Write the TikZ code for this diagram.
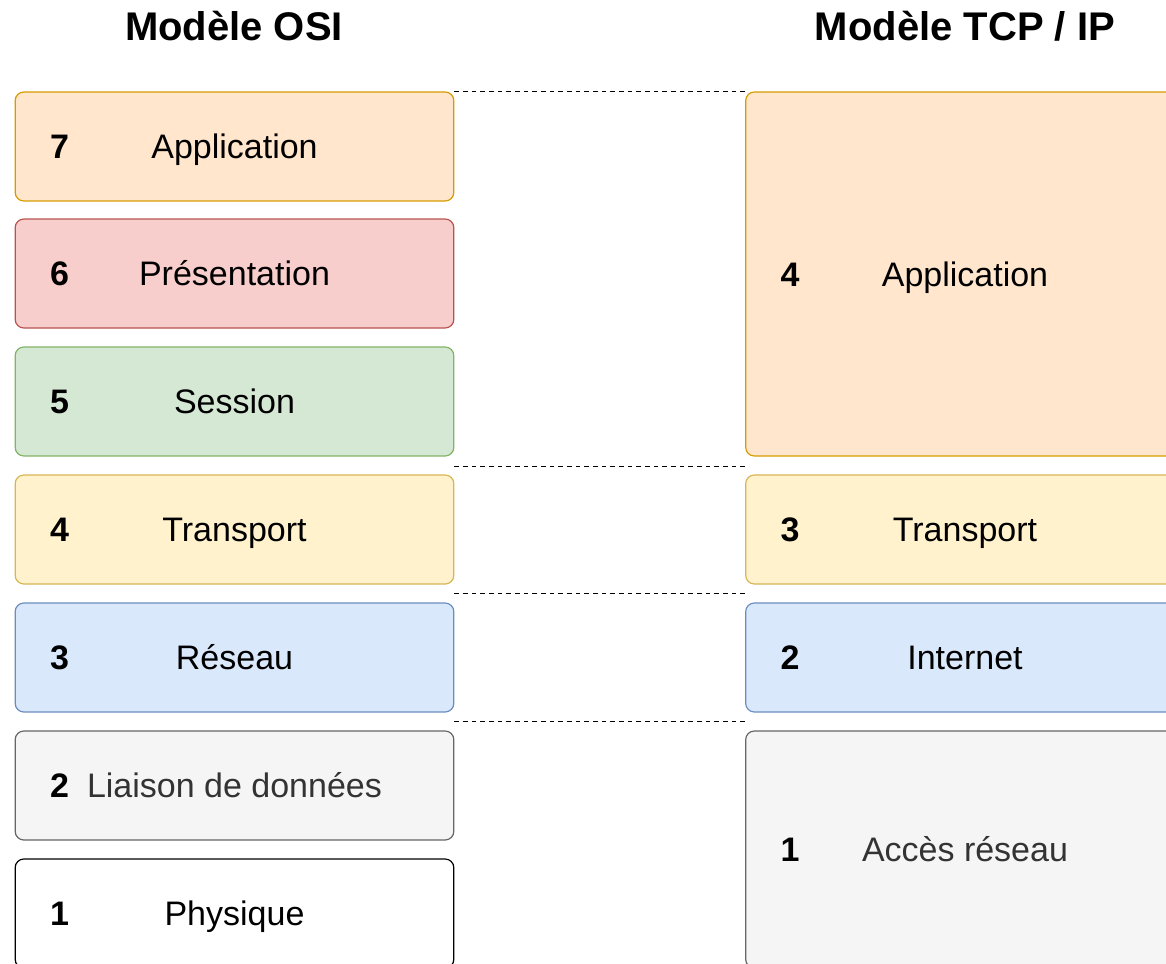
\documentclass[tikz,border=0pt]{standalone}
\usepackage{fontspec}
\setmainfont{Liberation Sans}
\usetikzlibrary{positioning}

\definecolor{orangeF}{HTML}{FFE6CC}\definecolor{orangeD}{HTML}{D79B00}
\definecolor{redF}{HTML}{F8CECC}\definecolor{redD}{HTML}{B85450}
\definecolor{greenF}{HTML}{D5E8D4}\definecolor{greenD}{HTML}{82B366}
\definecolor{yellowF}{HTML}{FFF2CC}\definecolor{yellowD}{HTML}{D6B656}
\definecolor{blueF}{HTML}{DAE8FC}\definecolor{blueD}{HTML}{6C8EBF}
\definecolor{grayF}{HTML}{F5F5F5}\definecolor{grayD}{HTML}{666666}
\definecolor{grayT}{HTML}{333333}

\begin{document}
\begin{tikzpicture}[x=0.75pt, y=-0.75pt,
            layer/.style = {draw, rounded corners=6.5pt, line width=0.9pt,
                            minimum width=329pt, inner sep=0pt,
                            text height=24.2pt, text depth=5.6pt,
                            font=\fontsize{25.5}{30}\selectfont},
            osi/.style = {layer, minimum height=81.75pt},
            num/.style = {font=\fontsize{25.5}{30}\selectfont\bfseries, anchor=base},
            title/.style = {font=\fontsize{30}{36}\selectfont\bfseries, anchor=base},
            sep/.style = {dashed, line width=0.8pt, dash pattern=on 3.5pt off 3pt},
            ]
            \useasboundingbox (0,0) rectangle (1166,963);
            \clip (0,0) rectangle (1166,963);

            % titles
            \node[title] (tosi) at (234,41) {Modèle OSI};
            \node[title] (ttcp) at (965,41) {Modèle TCP / IP};

            % OSI layers
            \node[osi, fill=orangeF, draw=orangeD] (o7) at (234.5,146.5) {Application};
            \node[osi, fill=redF, draw=redD] (o6) at (234.5,273.5) {Présentation};
            \node[osi, fill=greenF, draw=greenD] (o5) at (234.5,401.5) {Session};
            \node[osi, fill=yellowF, draw=yellowD] (o4) at (234.5,529.5) {Transport};
            \node[osi, fill=blueF, draw=blueD] (o3) at (234.5,657.5) {Réseau};
            \node[osi, fill=grayF, draw=grayD, text=grayT] (o2) at (234.5,785.5) {Liaison de données};
            \node[osi, fill=white, draw=black] (o1) at (234.5,913.5) {Physique};

            \foreach \i in {7,6,5,4,3,2,1}
                \node[num] (no\i) at ([xshift=33.75pt]o\i.west |- o\i.base) {\i};

            % TCP/IP layers
            \node[layer, minimum height=273pt, fill=orangeF, draw=orangeD] (t4) at (965,274) {Application};
            \node[layer, minimum height=81.75pt, fill=yellowF, draw=yellowD] (t3) at (965,529.5) {Transport};
            \node[layer, minimum height=81.75pt, fill=blueF, draw=blueD] (t2) at (965,657.5) {Internet};
            \node[layer, minimum height=177.75pt, fill=grayF, draw=grayD, text=grayT] (t1) at (965,849.5) {Accès réseau};

            \foreach \i in {4,3,2,1}
                \node[num] (nt\i) at ([xshift=33.75pt]t\i.west |- t\i.base) {\i};

            % correspondence
            \draw[sep] (o7.north east) -- (t4.north west);
            \draw[sep] ([yshift=-7.1pt]o5.south east) -- ([yshift=-7.1pt]t4.south west);
            \draw[sep] ([yshift=-7pt]o4.south east) -- ([yshift=-7pt]t3.south west);
            \draw[sep] ([yshift=-7pt]o3.south east) -- ([yshift=-7pt]t2.south west);
        \end{tikzpicture}
\end{document}
